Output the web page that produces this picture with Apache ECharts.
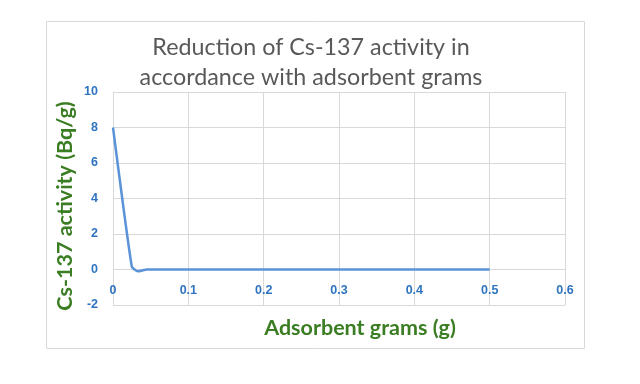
<!DOCTYPE html>
<html>
<head>
<meta charset="utf-8">
<script src="https://cdn.jsdelivr.net/npm/echarts@6/dist/echarts.min.js"></script>
<style>html,body{margin:0;padding:0;background:#fff;}#c{width:640px;height:384px;}</style>
</head>
<body>
<div id="c"></div>
<script>
const titleLines = ['Reduction of Cs-137 activity in', 'accordance with adsorbent grams'];
const xAxisName = 'Adsorbent grams (g)';
const yAxisName = 'Cs-137 activity (Bq/g)';
const xValues = [0, 0.025, 0.033, 0.045, 0.1, 0.2, 0.3, 0.4, 0.5];
const activity = [8.0, 0.15, -0.1, 0.0, 0.0, 0.0, 0.0, 0.0, 0.0];
const xTicks = { min: 0, max: 0.6, interval: 0.1 };
const yTicks = { min: -2, max: 10, interval: 2 };

const chart = echarts.init(document.getElementById('c'), null, { renderer: 'canvas' });
const green = '#3a7d22';
const tickBlue = '#2f74c0';
const gridTop = 92, gridBottomPx = 305;
const zeroOffset = -((gridBottomPx - gridTop) * (0 - yTicks.min) / (yTicks.max - yTicks.min));
chart.setOption({
  animation: false,
  backgroundColor: '#fff',
  grid: { left: 113, right: 75, top: gridTop, bottom: 384 - gridBottomPx },
  xAxis: {
    type: 'value',
    min: xTicks.min, max: xTicks.max, interval: xTicks.interval,
    offset: zeroOffset,
    axisLine: { show: false },
    axisTick: { show: false },
    splitLine: { show: true, lineStyle: { color: '#d9d9d9', width: 1 } },
    axisLabel: { color: tickBlue, fontWeight: 'bold', fontFamily: 'Liberation Sans', fontSize: 12.5, margin: 15,
      formatter: v => (Math.round(v * 10) / 10).toString() }
  },
  yAxis: {
    type: 'value',
    min: yTicks.min, max: yTicks.max, interval: yTicks.interval,
    axisLine: { show: true, lineStyle: { color: '#d9d9d9' } },
    axisTick: { show: false },
    splitLine: { show: true, lineStyle: { color: '#d9d9d9', width: 1 } },
    axisLabel: { color: tickBlue, fontWeight: 'bold', fontFamily: 'Liberation Sans', fontSize: 12.5, margin: 15 }
  },
  graphic: [
    { type: 'rect', shape: { x: 46.5, y: 21.5, width: 538, height: 327 }, style: { fill: 'none', stroke: '#d9d9d9', lineWidth: 1 }, z: -1 },
    { type: 'text', x: 311, y: 47, style: { text: titleLines[0], fill: '#595959', font: '23.3px Lato', align: 'center', verticalAlign: 'middle' } },
    { type: 'text', x: 311, y: 77, style: { text: titleLines[1], fill: '#595959', font: '23.3px Lato', align: 'center', verticalAlign: 'middle' } },
    { type: 'text', x: 360, y: 328, style: { text: xAxisName, fill: green, font: 'bold 21.5px Lato', align: 'center', verticalAlign: 'middle' } },
    { type: 'text', x: 65, y: 206, rotation: Math.PI / 2, style: { text: yAxisName, fill: green, font: 'bold 21.5px Lato', align: 'center', verticalAlign: 'middle' } }
  ],
  series: [{
    type: 'line',
    data: xValues.map((x, i) => [x, activity[i]]),
    smooth: 0.15,
    showSymbol: false,
    lineStyle: { color: '#5b93d8', width: 2.5 },
    itemStyle: { color: '#5b93d8' }
  }]
});
</script>
</body>
</html>
